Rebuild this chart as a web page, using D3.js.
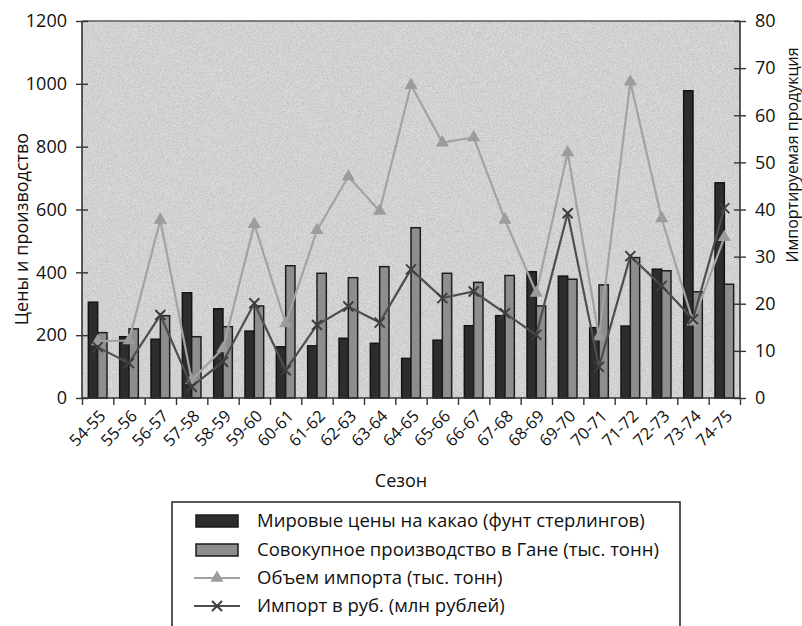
<!DOCTYPE html>
<html>
<head>
<meta charset="utf-8">
<script src="https://cdn.jsdelivr.net/npm/d3@7"></script>
<style>
  html, body { margin: 0; padding: 0; background: #fff; }
  svg { display: block; font-family: "Open Sans", "Noto Sans", sans-serif; }
</style>
</head>
<body>
<svg id="chart" width="802" height="626"></svg>
<script>
// Сезоны (ось X)
const seasons = ["54-55","55-56","56-57","57-58","58-59","59-60","60-61","61-62","62-63","63-64",
                 "64-65","65-66","66-67","67-68","68-69","69-70","70-71","71-72","72-73","73-74","74-75"];

// Мировые цены на какао (фунт стерлингов) — левая ось
const worldPrice = [305,195,187,335,284,213,163,166,190,174,126,184,230,262,402,388,224,229,410,978,685];

// Совокупное производство в Гане (тыс. тонн) — левая ось
const ghanaProduction = [208,220,262,195,227,293,421,397,383,418,542,397,368,390,293,378,360,447,405,338,362];

// Объем импорта (тыс. тонн) — правая ось
const importVolume = [12,12.2,37.8,3.8,10.5,36.9,15.8,35.6,47,39.7,66.4,54.2,55.3,37.8,22.3,52.1,13,67.1,38.1,16.2,34.1];

// Импорт в руб. (млн рублей) — правая ось
const importRub = [10.8,7.4,17.6,2.4,7.7,20.1,5.9,15.5,19.4,16,27.3,21.2,22.6,18,13.4,39.2,6.6,30.1,23.8,16.7,40.3];

// Деления осей
const leftTicks = [0,200,400,600,800,1000,1200];
const rightTicks = [0,10,20,30,40,50,60,70,80];

const legendItems = [
  {label: "Мировые цены на какао (фунт стерлингов)", type: "bar", fill: "#2d2d2d"},
  {label: "Совокупное производство в Гане (тыс. тонн)", type: "bar", fill: "#8e8e8e"},
  {label: "Объем импорта (тыс. тонн)", type: "tri", stroke: "#a3a3a3"},
  {label: "Импорт в руб. (млн рублей)", type: "x", stroke: "#4e4e4e"}
];

const svg = d3.select("#chart");
const plot = {left: 82, right: 740, top: 21, bottom: 398};

const x = d3.scaleBand().domain(seasons).range([plot.left, plot.right]).padding(0);
const xSub = d3.scaleBand().domain(["price","prod"]).range([0, x.bandwidth()])
  .paddingInner(0).paddingOuter(0.68);
const yL = d3.scaleLinear().domain([0, 1200]).range([plot.bottom, plot.top]);
const yR = d3.scaleLinear().domain([0, 80]).range([plot.bottom, plot.top]);

// Зернистый фон области построения
const defs = svg.append("defs");
const noise = defs.append("filter").attr("id", "grain")
  .attr("x", 0).attr("y", 0).attr("width", "100%").attr("height", "100%");
noise.append("feTurbulence").attr("type", "fractalNoise").attr("baseFrequency", 1.2)
  .attr("numOctaves", 2).attr("seed", 7).attr("result", "n");
noise.append("feColorMatrix").attr("in", "n").attr("type", "matrix")
  .attr("values", "0 0 0 0 0.4  0 0 0 0 0.4  0 0 0 0 0.4  0 0 0 2.2 -0.8");

svg.append("rect")
  .attr("x", plot.left).attr("y", plot.top)
  .attr("width", plot.right - plot.left).attr("height", plot.bottom - plot.top)
  .attr("fill", "#dadada");
svg.append("rect")
  .attr("x", plot.left).attr("y", plot.top)
  .attr("width", plot.right - plot.left).attr("height", plot.bottom - plot.top)
  .attr("filter", "url(#grain)").attr("opacity", 0.55);

// Столбцы
const barG = svg.append("g");
barG.selectAll("rect.price").data(seasons).join("rect")
  .attr("class", "price")
  .attr("x", (d) => x(d) + xSub("price"))
  .attr("y", (d, i) => yL(worldPrice[i]))
  .attr("width", xSub.bandwidth())
  .attr("height", (d, i) => yL(0) - yL(worldPrice[i]))
  .attr("fill", "#2d2d2d").attr("stroke", "#151515").attr("stroke-width", 1.5);
barG.selectAll("rect.prod").data(seasons).join("rect")
  .attr("class", "prod")
  .attr("x", (d) => x(d) + xSub("prod"))
  .attr("y", (d, i) => yL(ghanaProduction[i]))
  .attr("width", xSub.bandwidth())
  .attr("height", (d, i) => yL(0) - yL(ghanaProduction[i]))
  .attr("fill", "#8e8e8e").attr("stroke", "#1e1e1e").attr("stroke-width", 1.5);

const cx = (d) => x(d) + x.bandwidth() / 2;
const triPath = d3.symbol().type(d3.symbolTriangle).size(75);

// Линия объёма импорта с треугольниками
const lineVol = d3.line().x((d, i) => cx(seasons[i])).y((d) => yR(d));
svg.append("path").datum(importVolume)
  .attr("d", lineVol).attr("fill", "none")
  .attr("stroke", "#a3a3a3").attr("stroke-width", 2.2);
svg.append("g").selectAll("path").data(importVolume).join("path")
  .attr("d", triPath)
  .attr("transform", (d, i) => `translate(${cx(seasons[i])},${yR(d)})`)
  .attr("fill", "#9c9c9c");

// Линия импорта в рублях с крестиками
const lineRub = d3.line().x((d, i) => cx(seasons[i])).y((d) => yR(d));
svg.append("path").datum(importRub)
  .attr("d", lineRub).attr("fill", "none")
  .attr("stroke", "#4e4e4e").attr("stroke-width", 2.2);
const crossPath = "M-5,-5L5,5M-5,5L5,-5";
svg.append("g").selectAll("path").data(importRub).join("path")
  .attr("d", crossPath)
  .attr("transform", (d, i) => `translate(${cx(seasons[i])},${yR(d)})`)
  .attr("stroke", "#3e3e3e").attr("stroke-width", 2).attr("fill", "none");

// Рамка сверху
svg.append("line")
  .attr("x1", plot.left).attr("x2", plot.right)
  .attr("y1", plot.top).attr("y2", plot.top)
  .attr("stroke", "#5a5a5a").attr("stroke-width", 1.5);

// Оси
const axisColor = "#333";
const gL = svg.append("g").attr("transform", `translate(${plot.left},0)`)
  .call(d3.axisLeft(yL).tickValues(leftTicks).tickFormat(d3.format("d")).tickSize(6).tickPadding(9));
gL.selectAll(".tick line").attr("x1", 6);
const gR = svg.append("g").attr("transform", `translate(${plot.right},0)`)
  .call(d3.axisRight(yR).tickValues(rightTicks).tickFormat(d3.format("d")).tickSize(6).tickPadding(9));
gR.selectAll(".tick line").attr("x1", -6);
const xTickScale = d3.scaleLinear().domain([0, seasons.length]).range([plot.left, plot.right]);
const gB = svg.append("g").attr("transform", `translate(0,${plot.bottom})`)
  .call(d3.axisBottom(xTickScale).tickValues(d3.range(seasons.length + 1)).tickSize(7).tickFormat(""));
[gL, gR, gB].forEach((g) => {
  g.select(".domain").attr("stroke", axisColor).attr("stroke-width", 1.6);
  g.selectAll(".tick line").attr("stroke", axisColor).attr("stroke-width", 1.4);
  g.selectAll(".tick text").attr("fill", "#111").style("font-size", "18px")
    .style("font-family", "'Open Sans', sans-serif");
});
gB.select(".domain").attr("d", `M${plot.left},0H${plot.right}`);
gL.select(".domain").attr("d", `M0,${plot.bottom}V${plot.top}`);
gR.select(".domain").attr("d", `M0,${plot.bottom}V${plot.top}`);

// Подписи сезонов под углом
svg.append("g").selectAll("text").data(seasons).join("text")
  .attr("transform", (d) => `translate(${cx(d) + 5},${plot.bottom + 15}) rotate(-45)`)
  .attr("text-anchor", "end")
  .attr("dy", "0.35em")
  .style("font-size", "16.5px")
  .attr("fill", "#111")
  .text((d) => d);

// Заголовки осей
svg.append("text")
  .attr("transform", `translate(28,229) rotate(-90)`)
  .attr("text-anchor", "middle").style("font-size", "18px").attr("fill", "#111")
  .text("Цены и производство");
svg.append("text")
  .attr("transform", `translate(798,155) rotate(-90)`)
  .attr("text-anchor", "middle").style("font-size", "16px").attr("fill", "#111")
  .text("Импортируемая продукция");
svg.append("text")
  .attr("x", 401).attr("y", 487)
  .attr("text-anchor", "middle").style("font-size", "18px").attr("fill", "#111")
  .text("Сезон");

// Легенда
const lg = svg.append("g");
lg.append("rect")
  .attr("x", 172).attr("y", 502).attr("width", 508).attr("height", 140)
  .attr("fill", "#fff").attr("stroke", "#222").attr("stroke-width", 1.5);
const rowY = [521, 550, 578, 606];
legendItems.forEach((item, i) => {
  const ry = rowY[i];
  if (item.type === "bar") {
    lg.append("rect").attr("x", 196).attr("y", ry - 6).attr("width", 42).attr("height", 12)
      .attr("fill", item.fill).attr("stroke", "#1a1a1a").attr("stroke-width", 1.5);
  } else {
    lg.append("line").attr("x1", 194).attr("x2", 240).attr("y1", ry).attr("y2", ry)
      .attr("stroke", item.stroke).attr("stroke-width", 2.2);
    if (item.type === "tri") {
      lg.append("path").attr("d", triPath).attr("transform", `translate(217,${ry})`).attr("fill", "#9c9c9c");
    } else {
      lg.append("path").attr("d", crossPath).attr("transform", `translate(217,${ry})`)
        .attr("stroke", "#3e3e3e").attr("stroke-width", 2).attr("fill", "none");
    }
  }
  lg.append("text").attr("x", 257).attr("y", ry).attr("dy", "0.35em")
    .style("font-size", "18.5px").attr("fill", "#111").text(item.label);
});
</script>
</body>
</html>
